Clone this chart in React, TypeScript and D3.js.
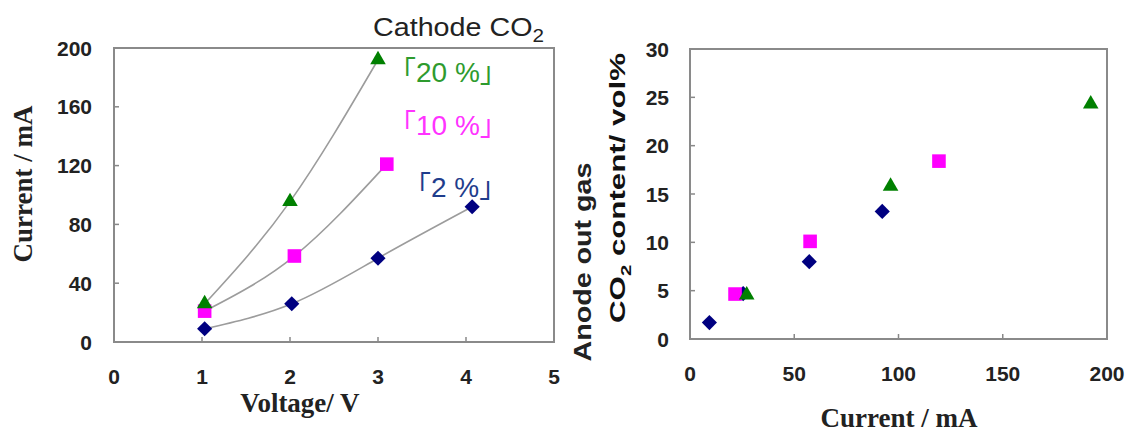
import React, { useEffect, useRef } from 'react';
import * as d3 from 'd3';

// left panel: current vs voltage for each cathode CO2 level
const voltage2 = [1.03, 2.02, 3.0, 4.07];
const current2 = [9, 26, 57, 92];
const voltage10 = [1.03, 2.05, 3.1];
const current10 = [21, 58.5, 121];
const voltage20 = [1.03, 2.0, 3.0];
const current20 = [26, 95.5, 192];

// right panel: anode out gas CO2 vs current
const anodeCurrent2 = [9.3, 25.5, 57.2, 92.2];
const anodeCo2_2 = [1.7, 4.7, 8.0, 13.2];
const anodeCurrent10 = [21.6, 57.6, 119.4];
const anodeCo2_10 = [4.65, 10.1, 18.4];
const anodeCurrent20 = [27.2, 96.2, 192.2];
const anodeCo2_20 = [4.55, 15.8, 24.3];

const leftXTicks = [0, 1, 2, 3, 4, 5];
const leftYTicks = [0, 40, 80, 120, 160, 200];
const rightXTicks = [0, 50, 100, 150, 200];
const rightYTicks = [0, 5, 10, 15, 20, 25, 30];

const seriesLabels = ['「2 %」', '「10 %」', '「20 %」'];

const NAVY = '#000080';
const MAGENTA = '#ff00ff';
const GREEN = '#008000';
const SANS = '"Liberation Sans", Arial, "Noto Sans CJK JP", sans-serif';
const SERIF = '"Liberation Serif", "Times New Roman", serif';

const W = 1129;
const H = 435;

type Pt = [number, number];
const zip = (xs: number[], ys: number[]): Pt[] => xs.map((x, i) => [x, ys[i]]);

function App() {
  const ref = useRef<SVGSVGElement>(null);

  useEffect(() => {
    drawChart();
  }, []);

  function drawMarkers(g: any, pts: Pt[], x: any, y: any, kind: string) {
    const sel = g.selectAll(null).data(pts).enter().append('path');
    if (kind === 'diamond') {
      sel
        .attr('d', d3.symbol().type(d3.symbolSquare).size(115)())
        .attr('transform', (d: Pt) => `translate(${x(d[0])},${y(d[1])}) rotate(45)`)
        .attr('fill', NAVY);
    } else if (kind === 'square') {
      sel
        .attr('d', d3.symbol().type(d3.symbolSquare).size(185)())
        .attr('transform', (d: Pt) => `translate(${x(d[0])},${y(d[1])})`)
        .attr('fill', MAGENTA);
    } else {
      sel
        .attr('d', d3.symbol().type(d3.symbolTriangle).size(105)())
        .attr('transform', (d: Pt) => `translate(${x(d[0])},${y(d[1])})`)
        .attr('fill', GREEN);
    }
  }

  function drawFrame(g: any, x: any, y: any, xTicks: number[], yTicks: number[]) {
    const [x0, x1] = x.range();
    const [y0, y1] = y.range();
    // inner ticks
    g.selectAll(null)
      .data(yTicks.slice(1, -1))
      .enter()
      .append('line')
      .attr('x1', x0)
      .attr('x2', x0 + 5)
      .attr('y1', (d: number) => y(d))
      .attr('y2', (d: number) => y(d))
      .attr('stroke', '#888')
      .attr('stroke-width', 1.5);
    g.selectAll(null)
      .data(xTicks.slice(1, -1))
      .enter()
      .append('line')
      .attr('x1', (d: number) => x(d))
      .attr('x2', (d: number) => x(d))
      .attr('y1', y0)
      .attr('y2', y0 - 5)
      .attr('stroke', '#888')
      .attr('stroke-width', 1.5);
    g.append('rect')
      .attr('x', x0)
      .attr('y', y1)
      .attr('width', x1 - x0)
      .attr('height', y0 - y1)
      .attr('fill', 'none')
      .attr('stroke', '#8a8a8a')
      .attr('stroke-width', 2);
  }

  function tickLabels(g: any, x: any, y: any, xTicks: number[], yTicks: number[], yLabelX: number, xLabelY: number) {
    g.selectAll(null)
      .data(yTicks)
      .enter()
      .append('text')
      .attr('x', yLabelX)
      .attr('y', (d: number) => y(d))
      .attr('dy', '0.36em')
      .attr('text-anchor', 'end')
      .text((d: number) => d);
    g.selectAll(null)
      .data(xTicks)
      .enter()
      .append('text')
      .attr('x', (d: number) => x(d))
      .attr('y', xLabelY)
      .attr('dy', '0.36em')
      .attr('text-anchor', 'middle')
      .text((d: number) => d);
  }

  // stretch text along its own axis so that it spans `len` pixels
  function fitText(t: any, cx: number, cy: number, rot: number, len: number) {
    const w = t.node().getComputedTextLength();
    t.attr('transform', `translate(${cx},${cy}) rotate(${rot}) scale(${len / w},1)`);
  }

  function drawChart() {
    const svg = d3.select(ref.current);
    svg.selectAll('*').remove();

    // ---------- left panel ----------
    const xL = d3.scaleLinear().domain([0, 5]).range([114, 554]);
    const yL = d3.scaleLinear().domain([0, 200]).range([342, 48]);
    const gL = svg.append('g');

    drawFrame(gL, xL, yL, leftXTicks, leftYTicks);

    const line = d3
      .line<Pt>()
      .x(d => xL(d[0]))
      .y(d => yL(d[1]))
      .curve(d3.curveNatural);

    const left2 = zip(voltage2, current2);
    const left10 = zip(voltage10, current10);
    const left20 = zip(voltage20, current20);

    [left2, left10, left20].forEach(pts => {
      gL.append('path')
        .attr('d', line(pts))
        .attr('fill', 'none')
        .attr('stroke', '#9c9c9c')
        .attr('stroke-width', 1.6);
    });

    drawMarkers(gL, left2, xL, yL, 'diamond');
    drawMarkers(gL, left10, xL, yL, 'square');
    drawMarkers(gL, left20, xL, yL, 'triangle');

    const tL = gL.append('g').attr('font-family', SANS).attr('font-weight', 'bold').attr('font-size', 21).attr('fill', '#222');
    tickLabels(tL, xL, yL, leftXTicks, leftYTicks, 92, 376);

    gL.append('text')
      .attr('x', 300)
      .attr('y', 412)
      .attr('text-anchor', 'middle')
      .attr('font-family', SERIF)
      .attr('font-weight', 'bold')
      .attr('font-size', 27)
      .attr('fill', '#222')
      .text('Voltage/ V');

    gL.append('text')
      .attr('transform', 'translate(32,184) rotate(-90)')
      .attr('text-anchor', 'middle')
      .attr('font-family', SERIF)
      .attr('font-weight', 'bold')
      .attr('font-size', 27)
      .attr('fill', '#222')
      .text('Current / mA');

    const cath = gL.append('text')
      .attr('font-family', SANS)
      .attr('font-size', 25)
      .attr('fill', '#222');
    cath.append('tspan').text('Cathode CO');
    cath.append('tspan').attr('dy', 6).attr('font-size', 18).text('2');
    fitText(cath, 373, 36, 0, 171);

    const labelColors = ['#1f3d8c', '#ff33ff', '#2e9b2e'];
    const labelPos: Pt[] = [[403, 187], [388, 125], [388, 72]];
    seriesLabels.forEach((s, i) => {
      gL.append('text')
        .attr('x', labelPos[i][0])
        .attr('y', labelPos[i][1])
        .attr('dy', '0.36em')
        .attr('font-family', SANS)
        .attr('font-size', 28)
        .attr('fill', labelColors[i])
        .text(s);
    });

    // ---------- right panel ----------
    const xR = d3.scaleLinear().domain([0, 200]).range([690, 1107]);
    const yR = d3.scaleLinear().domain([0, 30]).range([339, 49]);
    const gR = svg.append('g');

    drawFrame(gR, xR, yR, rightXTicks, rightYTicks);

    drawMarkers(gR, zip(anodeCurrent2, anodeCo2_2), xR, yR, 'diamond');
    drawMarkers(gR, zip(anodeCurrent10, anodeCo2_10), xR, yR, 'square');
    drawMarkers(gR, zip(anodeCurrent20, anodeCo2_20), xR, yR, 'triangle');

    const tR = gR.append('g').attr('font-family', SANS).attr('font-weight', 'bold').attr('font-size', 21).attr('fill', '#222');
    tickLabels(tR, xR, yR, rightXTicks, rightYTicks, 669, 373);

    gR.append('text')
      .attr('x', 899)
      .attr('y', 427)
      .attr('text-anchor', 'middle')
      .attr('font-family', SERIF)
      .attr('font-weight', 'bold')
      .attr('font-size', 27)
      .attr('fill', '#222')
      .text('Current / mA');

    const a1 = gR.append('text')
      .attr('text-anchor', 'middle')
      .attr('font-family', SANS)
      .attr('font-weight', 'bold')
      .attr('font-size', 23)
      .attr('fill', '#222')
      .text('Anode out gas');
    fitText(a1, 591, 262, -90, 199);

    const a2 = gR.append('text')
      .attr('text-anchor', 'middle')
      .attr('font-family', SANS)
      .attr('font-weight', 'bold')
      .attr('font-size', 23)
      .attr('fill', '#111');
    a2.append('tspan').text('CO');
    a2.append('tspan').attr('dy', 6).attr('font-size', 15).text('2');
    a2.append('tspan').attr('dy', -6).text(' content/ vol%');
    fitText(a2, 625, 188, -90, 270);
  }

  return (
    <svg
      ref={ref}
      width={W}
      height={H}
      style={{ position: 'absolute', left: 0, top: 0, background: '#fff' }}
    />
  );
}

export default App;
